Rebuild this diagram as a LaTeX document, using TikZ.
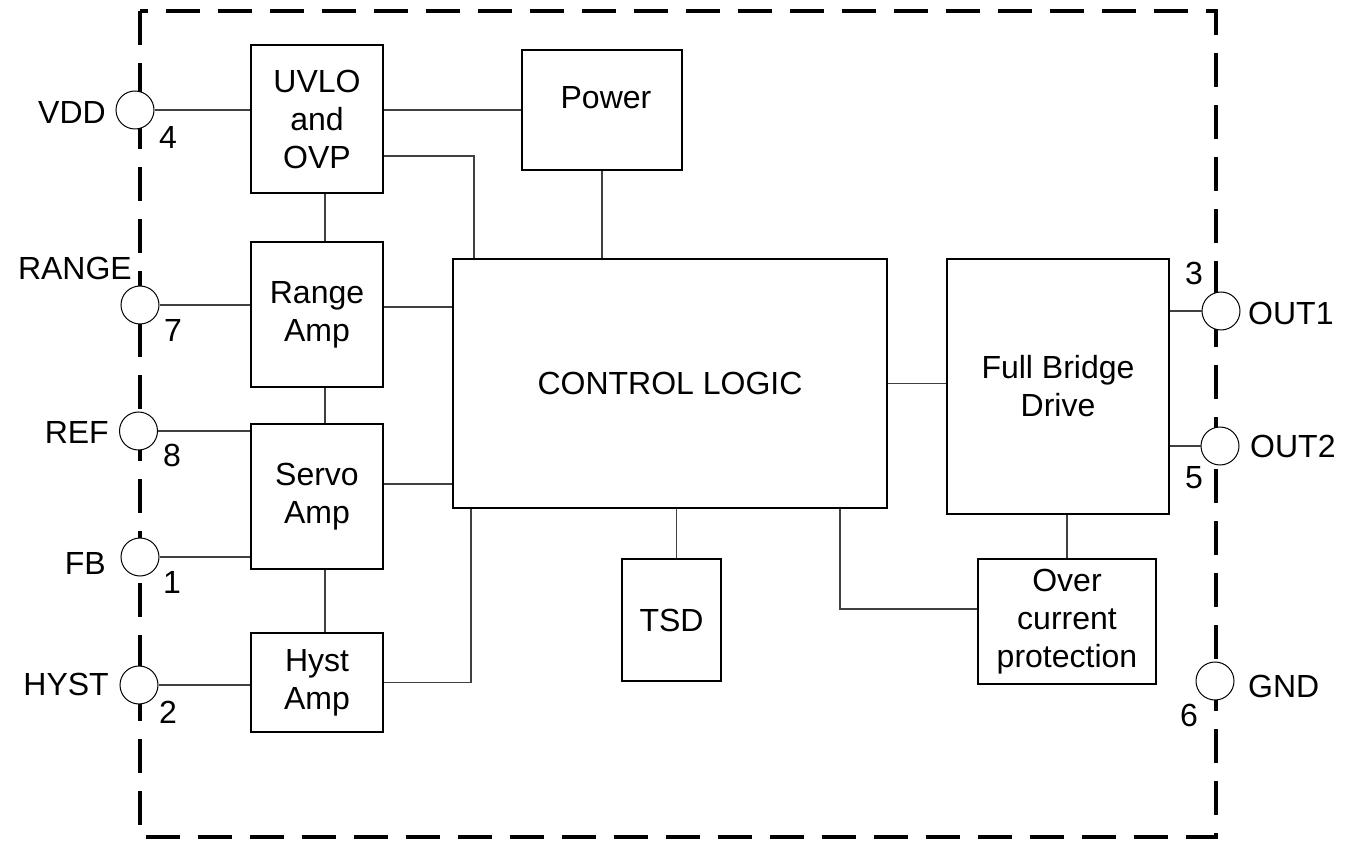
\documentclass[tikz,border=0pt]{standalone}
\usepackage{fontspec}
\setmainfont{Liberation Sans}
\begin{document}
\begin{tikzpicture}[x=1pt,y=-1pt,
  font=\fontsize{32}{38}\selectfont,
  blk/.style={draw, line width=2pt, align=center, inner sep=0pt},
  pinc/.style={circle, draw, line width=1pt, fill=white, minimum size=38pt, inner sep=0pt},
  wire/.style={line width=1.2pt, black!75},
  frame/.style={line width=4pt, dash pattern=on 34pt off 18pt},
  txt/.style={inner sep=0pt}]
\useasboundingbox (0,0) rectangle (1361,842);
\draw[frame] (140,11) rectangle (1216,837);
% blocks
\node[blk, minimum width=132pt, minimum height=148pt] (uvlo) at (317,119) {UVLO\\and\\OVP};
\node[blk, minimum width=132pt, minimum height=145pt] (range) at (317,314.5) {Range\\Amp};
\node[blk, minimum width=132pt, minimum height=145pt] (servo) at (317,496.5) {Servo\\Amp};
\node[blk, minimum width=132pt, minimum height=99pt] (hyst) at (317,682.5) {Hyst\\Amp};
\node[blk, minimum width=160pt, minimum height=120pt, label={[yshift=12pt, xshift=4pt]center:Power}] (power) at (602,110) {};
\node[blk, minimum width=434pt, minimum height=249pt] (cl) at (670,383.5) {CONTROL LOGIC};
\node[blk, minimum width=99pt, minimum height=122pt] (tsd) at (671.5,620) {TSD};
\node[blk, minimum width=222pt, minimum height=255pt] (fbd) at (1058,386.5) {Full Bridge\\Drive};
\node[blk, minimum width=178pt, minimum height=125pt] (ocp) at (1067,621.5) {Over\\current\\protection};
% pins
\node[pinc] (pvdd) at (135,110) {};
\node[pinc] (prange) at (140,305) {};
\node[pinc] (pref) at (138.5,431) {};
\node[pinc] (pfb) at (140,557) {};
\node[pinc] (physt) at (139,685) {};
\node[pinc] (pout1) at (1221,311) {};
\node[pinc] (pout2) at (1220,446) {};
\node[pinc] (pgnd) at (1215,681) {};
% pin labels
\node[txt, anchor=east] at (106,112) {VDD};
\node[txt, anchor=east] at (132,268) {RANGE};
\node[txt, anchor=east] at (109,432) {REF};
\node[txt, anchor=east] at (106,563) {FB};
\node[txt, anchor=east] at (109,684) {HYST};
\node[txt, anchor=west] at (1248,313) {OUT1};
\node[txt, anchor=west] at (1250,446) {OUT2};
\node[txt, anchor=west] at (1248,686) {GND};
\node[txt] at (168,137) {4};
\node[txt] at (173,330) {7};
\node[txt] at (172,455) {8};
\node[txt] at (172,582) {1};
\node[txt] at (168,712) {2};
\node[txt] at (1194,273) {3};
\node[txt] at (1194,478) {5};
\node[txt] at (1189,715) {6};
% wires
\draw[wire] (pvdd.east) -- (pvdd.east -| uvlo.west);
\draw[wire] (power.west) -- (power.west -| uvlo.east);
\draw[wire] ([yshift=-37pt]uvlo.east) -| ([xshift=22pt]cl.north west);
\draw[wire] (power.south) -- (power.south |- cl.north);
\draw[wire] ([xshift=8pt]uvlo.south) -- ([xshift=8pt]range.north);
\draw[wire] (prange.east) -- (prange.east -| range.west);
\draw[wire] ([yshift=7.5pt]range.east) -- ([yshift=7.5pt]range.east -| cl.west);
\draw[wire] ([xshift=8pt]range.south) -- ([xshift=8pt]servo.north);
\draw[wire] (pref.east) -- (pref.east -| servo.west);
\draw[wire] ([yshift=12.5pt]servo.east) -- ([yshift=12.5pt]servo.east -| cl.west);
\draw[wire] (pfb.east) -- (pfb.east -| servo.west);
\draw[wire] ([xshift=8pt]servo.south) -- ([xshift=8pt]hyst.north);
\draw[wire] (physt.east) -- (physt.east -| hyst.west);
\draw[wire] (hyst.east) -| ([xshift=19pt]cl.south west);
\draw[wire] ([xshift=5pt]tsd.north) -- ([xshift=5pt]tsd.north |- cl.south);
\draw[wire] ([xshift=-48pt]cl.south east) |- ([yshift=12.5pt]ocp.west);
\draw[wire] (cl.east) -- (cl.east -| fbd.west);
\draw[wire] (ocp.north) -- (ocp.north |- fbd.south);
\draw[wire] (pout1.west) -- (pout1.west -| fbd.east);
\draw[wire] (pout2.west) -- (pout2.west -| fbd.east);
\end{tikzpicture}
\end{document}
